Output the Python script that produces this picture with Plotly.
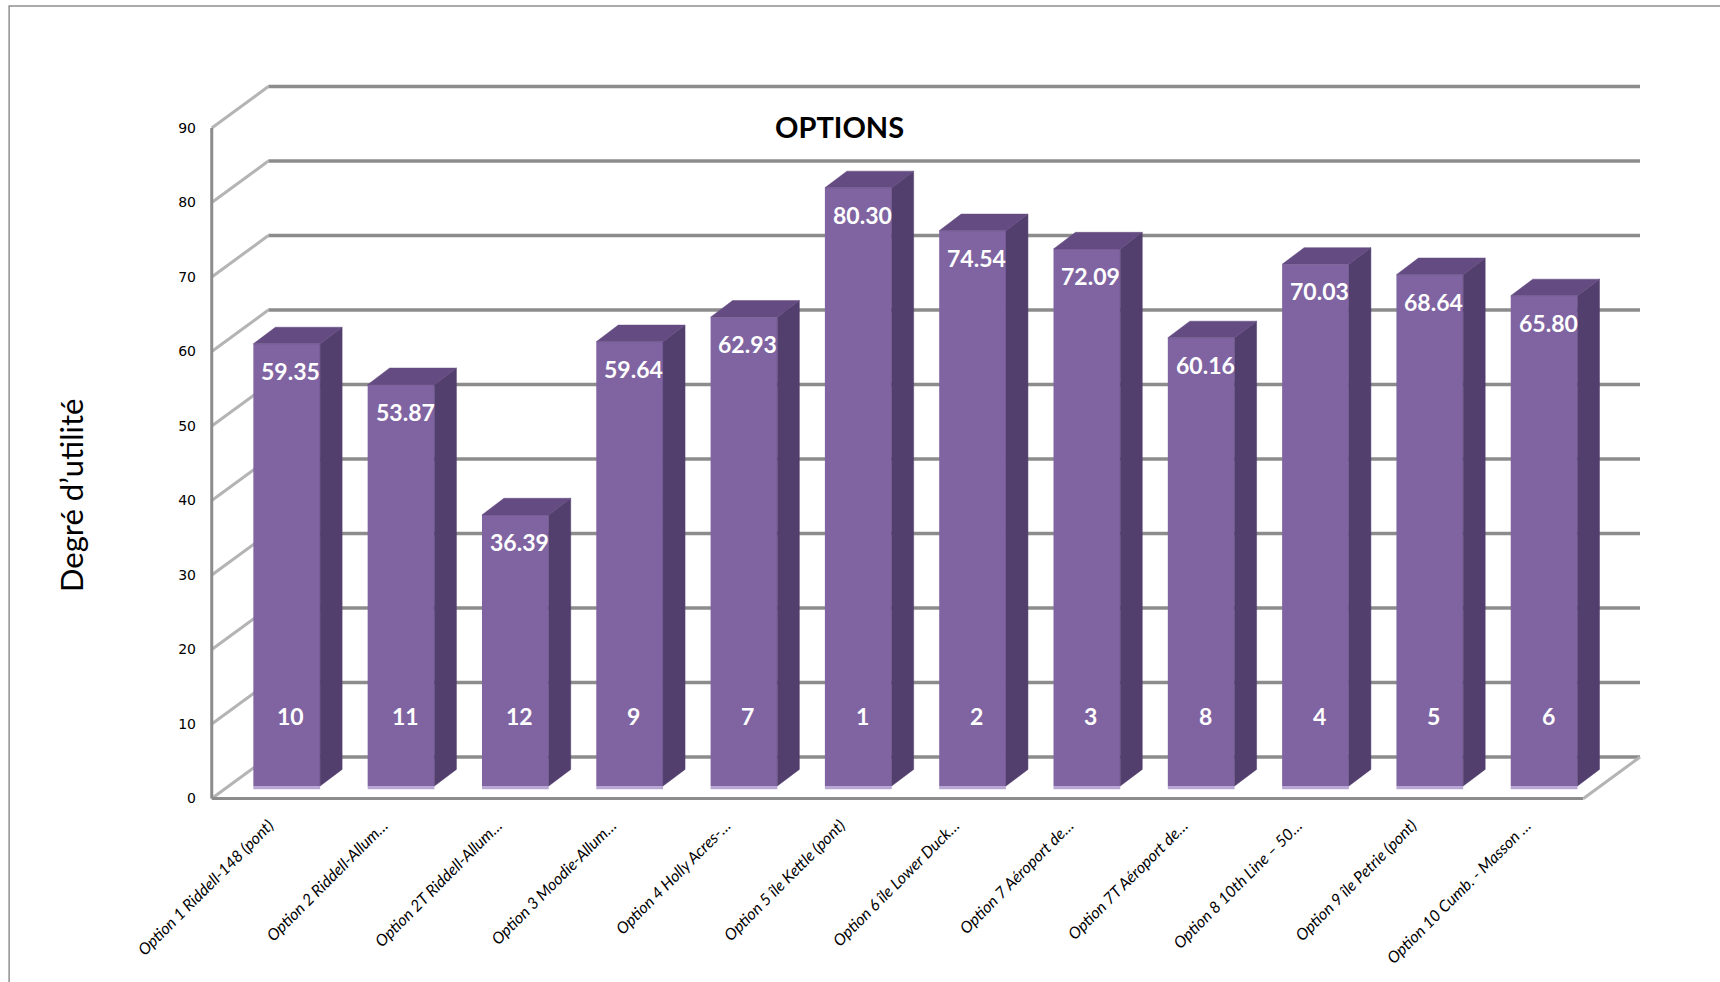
import plotly.graph_objects as go

categories = [
    "Option 1 Riddell-148 (pont)",
    "Option 2 Riddell-Allum…",
    "Option 2T Riddell-Allum…",
    "Option 3 Moodie-Allum…",
    "Option 4 Holly Acres-…",
    "Option 5 île Kettle (pont)",
    "Option 6 île Lower Duck…",
    "Option 7 Aéroport de…",
    "Option 7T Aéroport de…",
    "Option 8 10th Line – 50…",
    "Option 9 île Petrie (pont)",
    "Option 10 Cumb. - Masson …",
]
values = [59.35, 53.87, 36.39, 59.64, 62.93, 80.30, 74.54, 72.09, 60.16, 70.03, 68.64, 65.80]
ranks = [10, 11, 12, 9, 7, 1, 2, 3, 8, 4, 5, 6]
y_ticks = [0, 10, 20, 30, 40, 50, 60, 70, 80, 90]

# pseudo-3D geometry (in axis units)
BAR_W = 0.584
DEPTH_X, DEPTH_Y = 0.1925, 2.23
FRONT_DX, FRONT_DY = -0.156, -1.68
BACK_DX, BACK_DY = 0.339, 3.89

FRONT_COL = "#8064A2"
SIDE_COL = "#533F6E"
TOP_COL = "#644B81"
STRIP_COL = "#B9A8D3"

n = len(values)
xs = list(range(n))

fig = go.Figure()

shapes = []
grid_back = dict(color="#8C8C8C", width=3.5)
grid_side = dict(color="#B4B4B4", width=3)
for t in y_ticks:
    shapes.append(dict(type="line", xref="x", yref="y", layer="below",
                       x0=-0.5 + BACK_DX, x1=n - 0.5 + BACK_DX,
                       y0=t + BACK_DY, y1=t + BACK_DY, line=grid_back))
    shapes.append(dict(type="line", xref="x", yref="y", layer="below",
                       x0=-0.5 + FRONT_DX, x1=-0.5 + BACK_DX,
                       y0=t + FRONT_DY, y1=t + BACK_DY, line=grid_side))
# front vertical axis line
shapes.append(dict(type="line", xref="x", yref="y", layer="below",
                   x0=-0.5 + FRONT_DX, x1=-0.5 + FRONT_DX,
                   y0=y_ticks[0] + FRONT_DY, y1=y_ticks[-1] + FRONT_DY,
                   line=dict(color="#8C8C8C", width=3)))
# floor front edge
shapes.append(dict(type="line", xref="x", yref="y", layer="below",
                   x0=-0.5 + FRONT_DX, x1=n - 0.5 + FRONT_DX,
                   y0=FRONT_DY, y1=FRONT_DY,
                   line=dict(color="#8C8C8C", width=3)))
# floor right edge
shapes.append(dict(type="line", xref="x", yref="y", layer="below",
                   x0=n - 0.5 + FRONT_DX, x1=n - 0.5 + BACK_DX,
                   y0=FRONT_DY, y1=BACK_DY, line=grid_side))
# chart frame
shapes.append(dict(type="rect", xref="paper", yref="paper",
                   x0=-0.139, x1=1.2, y0=-0.4, y1=1.0718,
                   line=dict(color="#8F8F8F", width=1.5), layer="below"))

# front faces
fig.add_trace(go.Bar(x=xs, y=values, width=BAR_W, marker=dict(color=FRONT_COL, line=dict(width=0)),
                     hoverinfo="skip", showlegend=False))
# light bottom strip
fig.add_trace(go.Bar(x=xs, y=[-0.45] * n, base=0, width=BAR_W,
                     marker=dict(color=STRIP_COL, line=dict(width=0)),
                     hoverinfo="skip", showlegend=False))

# side faces and top faces
sx, sy, tx, ty = [], [], [], []
for xi, v in zip(xs, values):
    xl = xi - BAR_W / 2
    xr = xi + BAR_W / 2
    sx += [xr, xr + DEPTH_X, xr + DEPTH_X, xr, xr, None]
    sy += [0, DEPTH_Y, v + DEPTH_Y, v, 0, None]
    tx += [xl, xl + DEPTH_X, xr + DEPTH_X, xr, xl, None]
    ty += [v, v + DEPTH_Y, v + DEPTH_Y, v, v, None]
fig.add_trace(go.Scatter(x=sx, y=sy, mode="lines", fill="toself", fillcolor=SIDE_COL,
                         line=dict(color=SIDE_COL, width=0.5), hoverinfo="skip", showlegend=False))
fig.add_trace(go.Scatter(x=tx, y=ty, mode="lines", fill="toself", fillcolor=TOP_COL,
                         line=dict(color=TOP_COL, width=0.5), hoverinfo="skip", showlegend=False))

annotations = []
for xi, v, r in zip(xs, values, ranks):
    annotations.append(dict(x=xi, y=v, xref="x", yref="y", text=f"{v:.2f}", showarrow=False,
                            xshift=4, yshift=-27, yanchor="middle",
                            font=dict(family="Lato", size=23, color="white", weight="bold")))
    annotations.append(dict(x=xi, y=0, xref="x", yref="y", text=str(r), showarrow=False,
                            xshift=4, yshift=70, yanchor="middle",
                            font=dict(family="Lato", size=23, color="white", weight="bold")))
annotations.append(dict(x=0.4388, y=0.911, xref="paper", yref="paper", text="OPTIONS",
                        showarrow=False, xanchor="center", yanchor="middle",
                        font=dict(family="Lato", size=29, color="black", weight="bold")))
annotations.append(dict(x=-0.096, y=0.4215, xref="paper", yref="paper", text="Degré d’utilité",
                        showarrow=False, textangle=-90, xanchor="center", yanchor="middle",
                        font=dict(family="Lato", size=31, color="black")))

fig.update_layout(
    width=1720, height=982,
    margin=dict(l=209, r=73, t=60, b=170),
    paper_bgcolor="white", plot_bgcolor="white",
    barmode="overlay",
    shapes=shapes, annotations=annotations,
    xaxis=dict(range=[-0.68, 11.9], showgrid=False, zeroline=False, showline=False,
               tickmode="array", tickvals=[xi + FRONT_DX for xi in xs], ticktext=categories,
               tickangle=-45, ticks="",
               tickfont=dict(family="Lato", size=16, color="black", style="italic")),
    yaxis=dict(range=[-3.49, 97.45], showgrid=False, zeroline=False, showline=False,
               tickmode="array", tickvals=[t + FRONT_DY for t in y_ticks],
               ticktext=[str(t) for t in y_ticks], ticks="", ticklabelstandoff=12,
               tickfont=dict(family="DejaVu Sans", size=14, color="black")),
)

fig.write_html("out.html")
